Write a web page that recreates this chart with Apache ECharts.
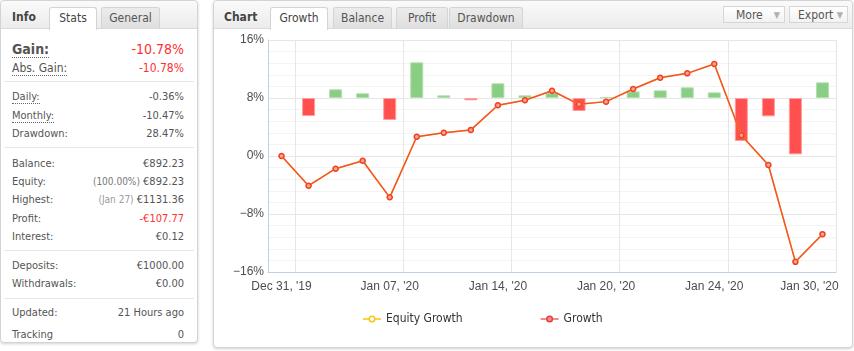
<!DOCTYPE html>
<html>
<head>
<meta charset="utf-8">
<script src="https://cdn.jsdelivr.net/npm/echarts@6/dist/echarts.min.js"></script>
<style>
  body { margin: 0; width: 854px; height: 351px; background: #fff; overflow: hidden;
    font-family: "DejaVu Sans Condensed", "DejaVu Sans", Tahoma, sans-serif; font-stretch: condensed; font-size: 11px; color: #555; }
  .box { position: absolute; top: 0; background: #fff; border: 1px solid #d3d3d3; border-radius: 4px;
    box-shadow: 0 1px 3px rgba(0,0,0,0.18); }
  .head { position: absolute; left: 0; top: 0; right: 0; height: 27px; border-bottom: 1px solid #dadada;
    background: linear-gradient(#fafafa, #ececec); border-radius: 4px 4px 0 0; }
  .title { position: absolute; top: 9px; font-weight: bold; font-size: 12px; color: #444; }
  .tab { position: absolute; top: 6px; height: 21px; border: 1px solid #d4d4d4; border-bottom: none;
    border-radius: 3px 3px 0 0; background: linear-gradient(#ececec, #dedede); text-align: center;
    line-height: 21px; font-size: 12px; color: #555; }
  .tab.on { background: #fff; height: 22px; color: #444; }
  .btn { position: absolute; top: 5px; height: 17px; border: 1px solid #d6d6d6; background: linear-gradient(#fff, #f2f2f2);
    line-height: 17px; font-size: 12px; color: #555; padding-left: 12px; box-sizing: border-box; }
  .btn span { color: #b0b0b0; font-size: 9px; position: absolute; right: 4px; }
  .row { position: absolute; left: 11px; right: 13px; height: 14px; line-height: 14px; }
  .row .v { position: absolute; right: 0; top: 0; }
  .dot { border-bottom: 1px dotted #666; }
  .red { color: #ff3030; }
  .sm { color: #999; font-size: 10px; }
  .sep { position: absolute; left: 3px; right: 3px; height: 1px; background: #e8e8e8; }
  #chart { position: absolute; left: 213px; top: 29px; width: 639px; height: 318px; }
</style>
</head>
<body>
<div class="box" style="left:0;width:196px;height:341px;">
  <div class="head">
    <div class="title" style="left:11px;">Info</div>
    <div class="tab on" style="left:48px;width:46px;">Stats</div>
    <div class="tab" style="left:100px;width:57px;">General</div>
  </div>
  <div class="row" style="top:40px;height:17px;line-height:17px;font-size:14px;"><b class="dot" style="color:#555;">Gain:</b><span class="v red">-10.78%</span></div>
  <div class="row" style="top:60px;font-size:12px;"><span class="dot">Abs. Gain:</span><span class="v red">-10.78%</span></div>
  <div class="sep" style="top:80px;"></div>
  <div class="row" style="top:89px;"><span class="dot">Daily:</span><span class="v">-0.36%</span></div>
  <div class="row" style="top:108px;"><span class="dot">Monthly:</span><span class="v">-10.47%</span></div>
  <div class="row" style="top:126px;">Drawdown:<span class="v">28.47%</span></div>
  <div class="sep" style="top:146px;"></div>
  <div class="row" style="top:156px;">Balance:<span class="v">€892.23</span></div>
  <div class="row" style="top:174px;">Equity:<span class="v"><span class="sm" style="color:#777;">(100.00%)</span> €892.23</span></div>
  <div class="row" style="top:192px;">Highest:<span class="v"><span class="sm">(Jan 27)</span> €1131.36</span></div>
  <div class="row" style="top:211px;">Profit:<span class="v red">-€107.77</span></div>
  <div class="row" style="top:229px;">Interest:<span class="v">€0.12</span></div>
  <div class="sep" style="top:249px;"></div>
  <div class="row" style="top:258px;">Deposits:<span class="v">€1000.00</span></div>
  <div class="row" style="top:276px;">Withdrawals:<span class="v">€0.00</span></div>
  <div class="sep" style="top:297px;"></div>
  <div class="row" style="top:305px;">Updated:<span class="v">21 Hours ago</span></div>
  <div class="row" style="top:327px;">Tracking<span class="v">0</span></div>
</div>

<div class="box" style="left:213px;width:638px;height:346px;">
  <div class="head">
    <div class="title" style="left:10px;">Chart</div>
    <div class="tab on" style="left:56px;width:56px;">Growth</div>
    <div class="tab" style="left:119px;width:57px;">Balance</div>
    <div class="tab" style="left:182px;width:50px;">Profit</div>
    <div class="tab" style="left:235px;width:72px;">Drawdown</div>
    <div class="btn" style="left:509px;width:62px;">More<span>▼</span></div>
    <div class="btn" style="left:575px;width:59px;padding-left:8px;">Export<span>▼</span></div>
  </div>
</div>
<div id="chart"></div>

<script>
const dates = ["Dec 31, '19", "Jan 02, '20", "Jan 03, '20", "Jan 06, '20", "Jan 07, '20", "Jan 08, '20",
  "Jan 09, '20", "Jan 10, '20", "Jan 14, '20", "Jan 15, '20", "Jan 16, '20", "Jan 17, '20", "Jan 20, '20",
  "Jan 21, '20", "Jan 22, '20", "Jan 23, '20", "Jan 24, '20", "Jan 27, '20", "Jan 28, '20", "Jan 29, '20", "Jan 30, '20"]
// growth curve, %
const growth = [0, -4.1, -1.75, -0.65, -5.7, 2.66, 3.2, 3.6, 7.0, 7.7, 9.0, 7.13, 7.5, 9.24, 10.8, 11.4, 12.7, 2.85, -1.24, -14.6, -10.78]
const equityGrowth = [0, -4.1, -1.75, -0.65, -5.7, 2.66, 3.2, 3.6, 7.0, 7.7, 9.0, 7.13, 7.5, 9.24, 10.8, 11.4, 12.7, 2.85, -1.24, -14.6, -10.78]
// daily change bars (drawn from the 8% line)
const daily = ['-', -2.48, 1.2, 0.65, -3.03, 4.92, 0.37, -0.32, 2.03, 0.37, 0.73, -1.79, 0.14, 0.92, 1.06, 1.47, 0.78, -5.93, -2.53, -7.77, 2.16]
const yTicks = [-16, -8, 0, 8, 16]

const myChart = echarts.init(document.getElementById('chart'))

const axisFont = { fontFamily: 'Liberation Sans, Arial, sans-serif', fontSize: 12, color: '#4d4d4d' }

const options = {
  animation: false,
  grid: { left: 55, right: 16, top: 11, bottom: 75, containLabel: false, outerBoundsMode: 'none' },
  legend: {
    left: 144,
    top: 279,
    itemGap: 77,
    itemWidth: 18,
    itemHeight: 7,
    textStyle: { fontFamily: 'DejaVu Sans Condensed, DejaVu Sans, sans-serif', fontSize: 12, color: '#333' },
    data: [
      { name: 'Equity Growth', itemStyle: { color: '#fff', borderColor: '#f5c518', borderWidth: 1.5 }, lineStyle: { color: '#ffd24a', width: 2 } },
      { name: 'Growth', itemStyle: { color: '#f29090', borderColor: '#e8403a', borderWidth: 1.5 }, lineStyle: { color: '#f28c8c', width: 2 } }
    ]
  },
  xAxis: {
    type: 'category',
    data: dates,
    boundaryGap: true,
    axisLine: { onZero: false, lineStyle: { color: '#c0d0e0' } },
    axisTick: { show: false },
    axisLabel: Object.assign({}, axisFont, {
      interval: 3,
      margin: 9,
      formatter: (v, i) => i === dates.length - 1 ? '{r|' + v + '}' : v,
      rich: { r: Object.assign({}, axisFont, { padding: [0, 26, 0, 0] }) }
    }),
    splitLine: { show: true, interval: (i) => i % 4 === 1, lineStyle: { color: '#e6e6e6' } }
  },
  yAxis: [
    {
      type: 'value',
      min: yTicks[0],
      max: yTicks[yTicks.length - 1],
      interval: 8,
      axisLine: { show: true, lineStyle: { color: '#c0d0e0' } },
      axisTick: { show: false },
      axisLabel: Object.assign({}, axisFont, {
        margin: 4,
        formatter: (v) => (v < 0 ? '\u2212' + (-v) : v) + '%'
      }),
      splitLine: { lineStyle: { color: '#e6e6e6' } },
      minorTick: { show: false, splitNumber: 5 },
      minorSplitLine: { show: true, lineStyle: { color: '#f3f3f3' } }
    },
    {
      type: 'value',
      show: false,
      min: -24,
      max: 8,
      interval: 8,
      splitLine: { show: false }
    }
  ],
  series: [
    {
      name: 'Daily',
      type: 'bar',
      yAxisIndex: 1,
      barWidth: 13,
      data: daily.map((v) => v === '-' ? v : {
        value: v,
        itemStyle: v >= 0
          ? { color: '#8acd84', borderColor: '#b4e0ae', borderWidth: 1 }
          : { color: '#ff4f4f', borderColor: '#ff9d9d', borderWidth: 1 }
      })
    },
    {
      name: 'Equity Growth',
      type: 'line',
      data: equityGrowth,
      symbol: 'circle',
      symbolSize: 6,
      itemStyle: { color: '#ffc233' },
      lineStyle: { color: '#ffc233', width: 1.5 }
    },
    {
      name: 'Growth',
      type: 'line',
      data: growth,
      symbol: 'circle',
      symbolSize: 5,
      itemStyle: { color: '#ffab7a', borderColor: '#ee3f30', borderWidth: 1.5 },
      lineStyle: { color: '#f2552c', width: 1.5 }
    }
  ]
}
myChart.setOption(options)
</script>
</body>
</html>
